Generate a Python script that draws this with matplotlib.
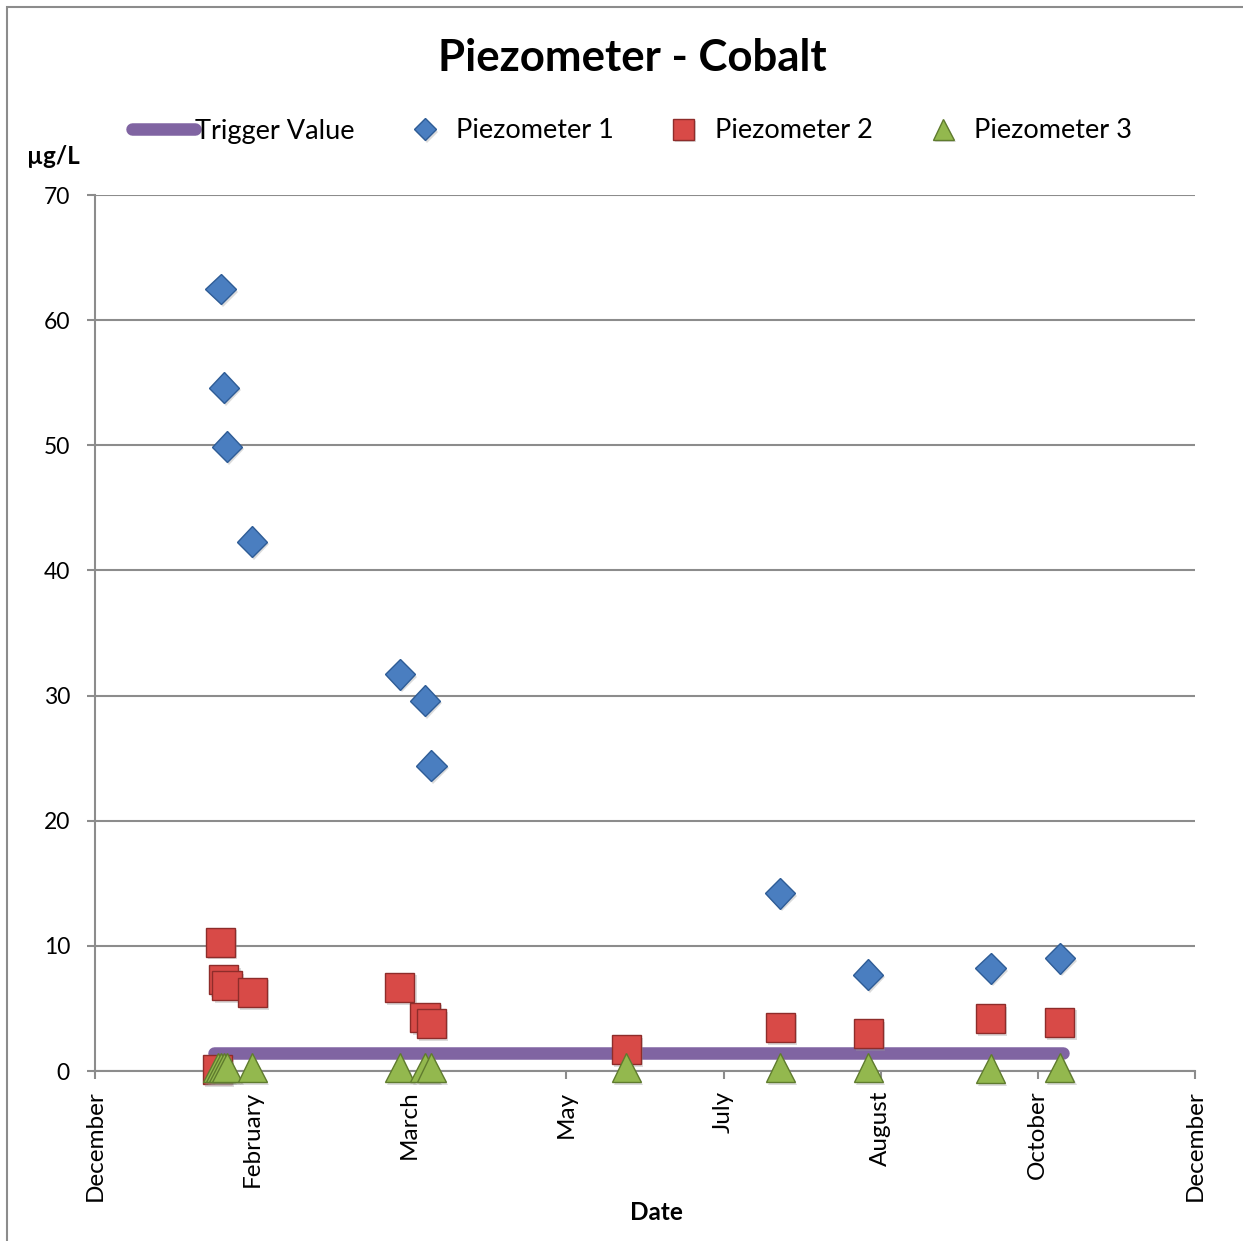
import datetime as dt
import matplotlib
matplotlib.use('Agg')
import matplotlib.pyplot as plt
import matplotlib.dates as mdates
import matplotlib.patheffects as pe
from matplotlib.patches import Rectangle
from matplotlib.ticker import FixedLocator, FuncFormatter

plt.rcParams['font.family'] = ['Lato', 'DejaVu Sans']

# sampling dates and cobalt results (ug/L)
p1_dates = ['2011-01-29', '2011-01-30', '2011-01-31', '2011-02-08', '2011-03-27',
            '2011-04-04', '2011-04-06', '2011-07-26', '2011-08-23', '2011-10-01',
            '2011-10-23']
p1_vals = [62.5, 54.6, 49.9, 42.3, 31.7, 29.6, 24.4, 14.2, 7.7, 8.2, 9.0]

p2_dates = ['2011-01-28', '2011-01-29', '2011-01-30', '2011-01-31', '2011-02-08',
            '2011-03-27', '2011-04-04', '2011-04-06', '2011-06-07', '2011-07-26',
            '2011-08-23', '2011-10-01', '2011-10-23']
p2_vals = [0.1, 10.3, 7.3, 6.8, 6.3, 6.7, 4.3, 3.8, 1.7, 3.5, 3.0, 4.2, 3.9]

p3_dates = ['2011-01-28', '2011-01-29', '2011-01-30', '2011-01-31', '2011-02-08',
            '2011-03-27', '2011-04-04', '2011-04-06', '2011-06-07', '2011-07-26',
            '2011-08-23', '2011-10-01', '2011-10-23']
p3_vals = [0.3, 0.3, 0.3, 0.3, 0.3, 0.3, 0.3, 0.3, 0.3, 0.3, 0.3, 0.2, 0.3]

trigger_dates = ['2011-01-27', '2011-10-24']
trigger_vals = [1.4, 1.4]

axis_start = dt.date(2010, 12, 20)
tick_step = 50  # days between labels


def to_dates(lst):
    return [dt.datetime.strptime(s, '%Y-%m-%d') for s in lst]


fig = plt.figure(figsize=(12.43, 12.41), dpi=100)
ax = fig.add_axes([95 / 1243, 1 - 1071 / 1241, 1100 / 1243, 876 / 1241])

fig.patches.append(Rectangle((7 / 1243, -0.01), 1.1, 1 - 7 / 1241 + 0.01,
                             transform=fig.transFigure, fill=False,
                             edgecolor='#8c8c8c', lw=1.5))

shadow = [pe.SimplePatchShadow(offset=(1.5, -2), shadow_rgbFace='#999999', alpha=0.35),
          pe.Normal()]

ax.plot(to_dates(trigger_dates), trigger_vals, color='#8064A2', lw=9,
        solid_capstyle='round', label='Trigger Value', zorder=3)
ax.plot(to_dates(p1_dates), p1_vals, ls='none', marker='D', ms=15.5,
        mfc='#4A7EC0', mec='#2E5C96', mew=1, label='Piezometer 1', zorder=4,
        path_effects=shadow)
ax.plot(to_dates(p2_dates), p2_vals, ls='none', marker='s', ms=21,
        mfc='#D84A47', mec='#8E2C2A', mew=1, label='Piezometer 2', zorder=4,
        clip_on=False, path_effects=shadow)
ax.plot(to_dates(p3_dates), p3_vals, ls='none', marker='^', ms=21,
        mfc='#93B84E', mec='#5F7B2E', mew=1, label='Piezometer 3', zorder=5,
        clip_on=False, path_effects=shadow)

ticks = [mdates.date2num(axis_start + dt.timedelta(days=tick_step * k)) for k in range(8)]
ax.set_xlim(ticks[0], ticks[-1])
ax.xaxis.set_major_locator(FixedLocator(ticks))
ax.xaxis.set_major_formatter(FuncFormatter(lambda v, p: mdates.num2date(v).strftime('%B')))
ax.set_ylim(0, 70)
ax.set_yticks(range(0, 71, 10))

ax.grid(axis='y', color='#8c8c8c', lw=1.5)
ax.set_axisbelow(True)
for s in ['top', 'right']:
    ax.spines[s].set_visible(False)
for s in ['left', 'bottom']:
    ax.spines[s].set_color('#8c8c8c')
    ax.spines[s].set_linewidth(1.5)
ax.tick_params(axis='both', direction='out', length=6, width=1.5, color='#8c8c8c',
               labelsize=16.5, pad=12)
ax.tick_params(axis='x', labelrotation=90, labelsize=17.5, pad=8)

fig.text(0.5085, 1 - 58 / 1241, 'Piezometer - Cobalt', ha='center', va='center',
         fontsize=31.5, fontweight='bold')
fig.text(53 / 1243, 1 - 157 / 1241, 'µg/L', ha='center', va='center',
         fontsize=17.5, fontweight='bold')
fig.text(656 / 1243, 1 - 1213 / 1241, 'Date', ha='center', va='center',
         fontsize=17.5, fontweight='bold')

fig.legend(loc='center', bbox_to_anchor=(0.5088, 1 - 131 / 1241), ncol=4,
           frameon=False, fontsize=19.5, handlelength=2.3, handletextpad=0,
           columnspacing=1.45, markerscale=0.72)

fig.savefig('out.png', dpi=100)
